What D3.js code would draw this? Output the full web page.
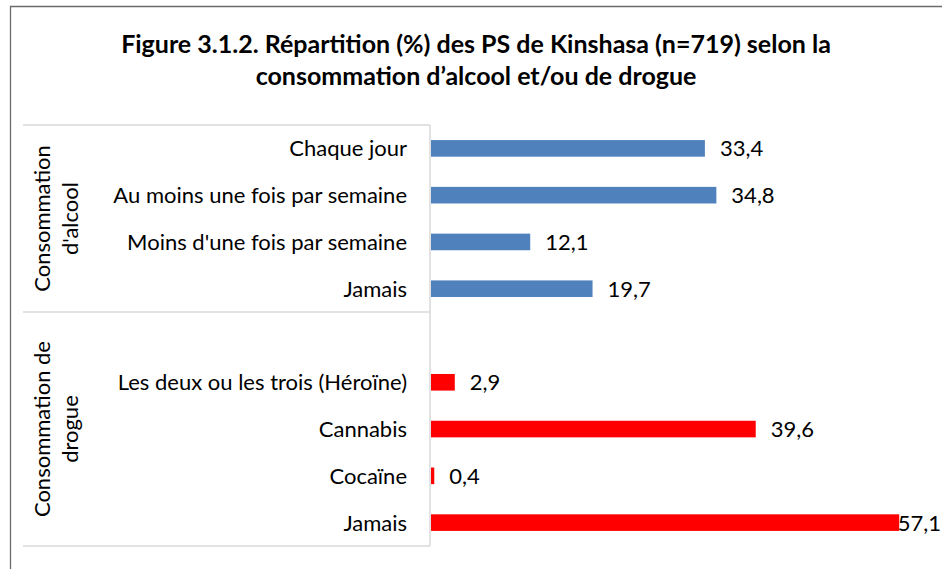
<!DOCTYPE html>
<html>
<head>
<meta charset="utf-8">
<script src="https://cdn.jsdelivr.net/npm/d3@7"></script>
<style>
  html, body { margin: 0; padding: 0; background: #fff; }
  svg { display: block; font-family: Lato, "Open Sans", sans-serif; }
</style>
</head>
<body>
<svg id="chart" width="942" height="569"></svg>
<script>
// ---- data ----
const titleLines = [
  "Figure 3.1.2. Répartition (%) des PS de Kinshasa (n=719) selon la",
  "consommation d’alcool et/ou de drogue"
];
const alcoholCategories = ["Chaque jour", "Au moins une fois par semaine", "Moins d'une fois par semaine", "Jamais"];
const alcoholValues = [33.4, 34.8, 12.1, 19.7];
const drugCategories = ["Les deux ou les trois (Héroïne)", "Cannabis", "Cocaïne", "Jamais"];
const drugValues = [2.9, 39.6, 0.4, 57.1];
const groupLabels = [["Consommation", "d'alcool"], ["Consommation de", "drogue"]];
const groupColors = ["#4F81BD", "#FF0000"];

// ---- layout ----
const W = 942, H = 569;
const axisX = 430, plotTop = 125, plotBottom = 546, plotRight = 941;
const labelLeft = 23;
const fs = 22;

const rows = [];
alcoholCategories.forEach((c, i) => rows.push({ key: "a" + i, label: c, value: alcoholValues[i], group: 0 }));
rows.push({ key: "gap", label: "", value: null, group: 1 });
drugCategories.forEach((c, i) => rows.push({ key: "d" + i, label: c, value: drugValues[i], group: 1 }));

const y = d3.scaleBand()
  .domain(rows.map(r => r.key))
  .range([plotTop, plotBottom])
  .paddingInner(0.645)
  .paddingOuter(0.3225);

const x = d3.scaleLinear().domain([0, 60]).range([axisX + 1, axisX + 1 + 492]);

const locale = d3.formatLocale({ decimal: ",", thousands: " ", grouping: [3], currency: ["", "€"] });
const fmt = locale.format(".1f");

const svg = d3.select("#chart");

// outer frame
svg.append("path")
  .attr("d", `M10.5,${H + 5} V6.5 H${W + 5}`)
  .attr("fill", "none")
  .attr("stroke", "#6b6b6b")
  .attr("stroke-width", 1.3);

// title
const title = svg.append("text")
  .attr("text-anchor", "middle")
  .attr("font-weight", "bold")
  .attr("font-size", 25)
  .attr("fill", "#000");
titleLines.forEach((t, i) => {
  title.append("tspan").attr("x", 476).attr("y", 53 + i * 32).text(t);
});

// category axis lines (group separators)
const step = y.step();
const sepY = plotTop + alcoholCategories.length * step; // boundary after alcohol rows
const gridColor = "#D9D9D9";
[plotTop, sepY, plotBottom].forEach(yy => {
  svg.append("line")
    .attr("x1", labelLeft).attr("x2", axisX)
    .attr("y1", yy).attr("y2", yy)
    .attr("stroke", gridColor).attr("stroke-width", 1.5);
});
svg.append("line")
  .attr("x1", axisX).attr("x2", axisX)
  .attr("y1", plotTop).attr("y2", plotBottom)
  .attr("stroke", gridColor).attr("stroke-width", 1.5);

// category labels
const dataRows = rows.filter(r => r.value !== null);
svg.append("g").selectAll("text")
  .data(dataRows)
  .join("text")
  .attr("x", axisX - 23)
  .attr("y", d => y(d.key) + y.bandwidth() / 2)
  .attr("dy", "0.36em")
  .attr("text-anchor", "end")
  .attr("font-size", fs)
  .attr("fill", "#000")
  .text(d => d.label);

// group labels (rotated)
const groupCenters = [(plotTop + sepY) / 2, (sepY + plotBottom) / 2];
groupLabels.forEach((lines, gi) => {
  const t = svg.append("text")
    .attr("transform", `translate(0,${groupCenters[gi]}) rotate(-90)`)
    .attr("text-anchor", "middle")
    .attr("font-size", fs)
    .attr("fill", "#000");
  lines.forEach((l, li) => {
    t.append("tspan").attr("x", 0).attr("y", 50 + li * 28).text(l);
  });
});

// bars
svg.append("g").selectAll("rect")
  .data(dataRows)
  .join("rect")
  .attr("x", x(0))
  .attr("y", d => y(d.key))
  .attr("width", d => x(d.value) - x(0))
  .attr("height", y.bandwidth())
  .attr("fill", d => groupColors[d.group]);

// value labels
svg.append("g").selectAll("text")
  .data(dataRows)
  .join("text")
  .attr("y", d => y(d.key) + y.bandwidth() / 2)
  .attr("dy", "0.36em")
  .attr("font-size", fs)
  .attr("fill", "#000")
  .text(d => fmt(d.value))
  .each(function (d) {
    const w = this.getComputedTextLength();
    d3.select(this).attr("x", Math.min(x(d.value) + 15, plotRight - w));
  });
</script>
</body>
</html>
